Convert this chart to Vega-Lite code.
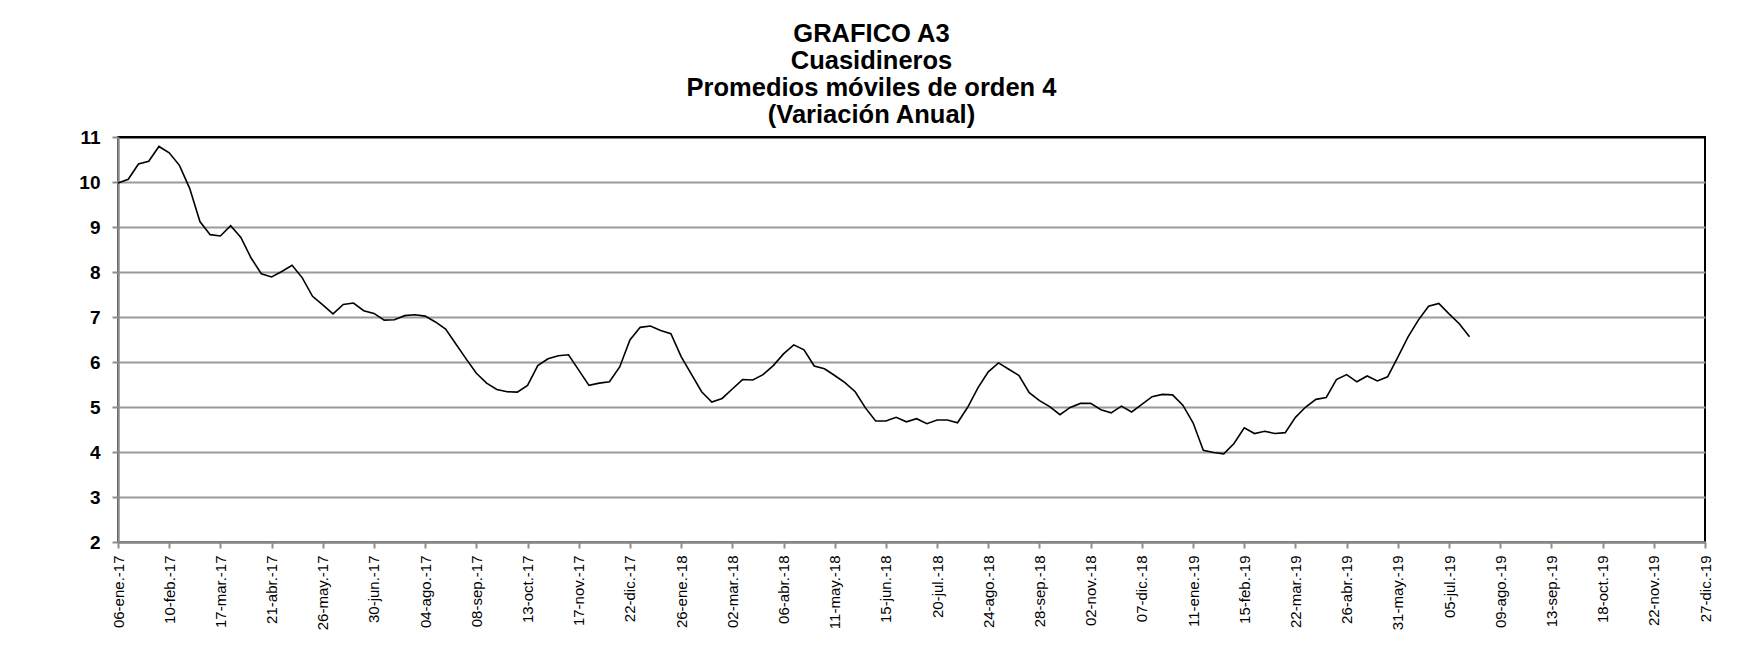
{
  "$schema": "https://vega.github.io/schema/vega-lite/v6.json",
  "autosize": {"type": "none"},
  "width": 1587,
  "height": 405,
  "padding": {"left": 118, "top": 137, "right": 37, "bottom": 119},
  "background": "white",
  "title": {
    "text": ["GRAFICO A3", "Cuasidineros", "Promedios móviles de orden 4", "(Variación Anual)"],
    "font": "Liberation Sans",
    "fontSize": 25.5,
    "fontWeight": "bold",
    "lineHeight": 27,
    "color": "black",
    "anchor": "middle",
    "dx": -40,
    "offset": 0
  },
  "config": {
    "view": {"stroke": "black", "strokeWidth": 2},
    "axis": {"labelFont": "Liberation Sans", "titleFont": "Liberation Sans"}
  },
  "data": {
    "values": [
      {"fecha": "2017/01/06", "valor": 9.98},
      {"fecha": "2017/01/13", "valor": 10.06},
      {"fecha": "2017/01/20", "valor": 10.40},
      {"fecha": "2017/01/27", "valor": 10.46},
      {"fecha": "2017/02/03", "valor": 10.79},
      {"fecha": "2017/02/10", "valor": 10.65},
      {"fecha": "2017/02/17", "valor": 10.37},
      {"fecha": "2017/02/24", "valor": 9.86},
      {"fecha": "2017/03/03", "valor": 9.12},
      {"fecha": "2017/03/10", "valor": 8.83},
      {"fecha": "2017/03/17", "valor": 8.80},
      {"fecha": "2017/03/24", "valor": 9.03},
      {"fecha": "2017/03/31", "valor": 8.77},
      {"fecha": "2017/04/07", "valor": 8.31},
      {"fecha": "2017/04/14", "valor": 7.96},
      {"fecha": "2017/04/21", "valor": 7.89},
      {"fecha": "2017/04/28", "valor": 8.01},
      {"fecha": "2017/05/05", "valor": 8.15},
      {"fecha": "2017/05/12", "valor": 7.87},
      {"fecha": "2017/05/19", "valor": 7.46},
      {"fecha": "2017/05/26", "valor": 7.27},
      {"fecha": "2017/06/02", "valor": 7.07},
      {"fecha": "2017/06/09", "valor": 7.28},
      {"fecha": "2017/06/16", "valor": 7.31},
      {"fecha": "2017/06/23", "valor": 7.14},
      {"fecha": "2017/06/30", "valor": 7.08},
      {"fecha": "2017/07/07", "valor": 6.93},
      {"fecha": "2017/07/14", "valor": 6.94},
      {"fecha": "2017/07/21", "valor": 7.03},
      {"fecha": "2017/07/28", "valor": 7.05},
      {"fecha": "2017/08/04", "valor": 7.02},
      {"fecha": "2017/08/11", "valor": 6.89},
      {"fecha": "2017/08/18", "valor": 6.73},
      {"fecha": "2017/08/25", "valor": 6.40},
      {"fecha": "2017/09/01", "valor": 6.07},
      {"fecha": "2017/09/08", "valor": 5.75},
      {"fecha": "2017/09/15", "valor": 5.53},
      {"fecha": "2017/09/22", "valor": 5.39},
      {"fecha": "2017/09/29", "valor": 5.34},
      {"fecha": "2017/10/06", "valor": 5.33},
      {"fecha": "2017/10/13", "valor": 5.48},
      {"fecha": "2017/10/20", "valor": 5.92},
      {"fecha": "2017/10/27", "valor": 6.07},
      {"fecha": "2017/11/03", "valor": 6.14},
      {"fecha": "2017/11/10", "valor": 6.16},
      {"fecha": "2017/11/17", "valor": 5.82},
      {"fecha": "2017/11/24", "valor": 5.48},
      {"fecha": "2017/12/01", "valor": 5.53},
      {"fecha": "2017/12/08", "valor": 5.56},
      {"fecha": "2017/12/15", "valor": 5.89},
      {"fecha": "2017/12/22", "valor": 6.49},
      {"fecha": "2017/12/29", "valor": 6.77},
      {"fecha": "2018/01/05", "valor": 6.80},
      {"fecha": "2018/01/12", "valor": 6.70},
      {"fecha": "2018/01/19", "valor": 6.63},
      {"fecha": "2018/01/26", "valor": 6.12},
      {"fecha": "2018/02/02", "valor": 5.73},
      {"fecha": "2018/02/09", "valor": 5.34},
      {"fecha": "2018/02/16", "valor": 5.11},
      {"fecha": "2018/02/23", "valor": 5.19},
      {"fecha": "2018/03/02", "valor": 5.40},
      {"fecha": "2018/03/09", "valor": 5.61},
      {"fecha": "2018/03/16", "valor": 5.60},
      {"fecha": "2018/03/23", "valor": 5.72},
      {"fecha": "2018/03/30", "valor": 5.92},
      {"fecha": "2018/04/06", "valor": 6.18},
      {"fecha": "2018/04/13", "valor": 6.38},
      {"fecha": "2018/04/20", "valor": 6.27},
      {"fecha": "2018/04/27", "valor": 5.91},
      {"fecha": "2018/05/04", "valor": 5.85},
      {"fecha": "2018/05/11", "valor": 5.70},
      {"fecha": "2018/05/18", "valor": 5.54},
      {"fecha": "2018/05/25", "valor": 5.34},
      {"fecha": "2018/06/01", "valor": 4.98},
      {"fecha": "2018/06/08", "valor": 4.69},
      {"fecha": "2018/06/15", "valor": 4.69},
      {"fecha": "2018/06/22", "valor": 4.77},
      {"fecha": "2018/06/29", "valor": 4.67},
      {"fecha": "2018/07/06", "valor": 4.74},
      {"fecha": "2018/07/13", "valor": 4.63},
      {"fecha": "2018/07/20", "valor": 4.71},
      {"fecha": "2018/07/27", "valor": 4.71},
      {"fecha": "2018/08/03", "valor": 4.65},
      {"fecha": "2018/08/10", "valor": 5.00},
      {"fecha": "2018/08/17", "valor": 5.43},
      {"fecha": "2018/08/24", "valor": 5.78},
      {"fecha": "2018/08/31", "valor": 5.98},
      {"fecha": "2018/09/07", "valor": 5.84},
      {"fecha": "2018/09/14", "valor": 5.70},
      {"fecha": "2018/09/21", "valor": 5.32},
      {"fecha": "2018/09/28", "valor": 5.14},
      {"fecha": "2018/10/05", "valor": 5.01},
      {"fecha": "2018/10/12", "valor": 4.83},
      {"fecha": "2018/10/19", "valor": 4.99},
      {"fecha": "2018/10/26", "valor": 5.08},
      {"fecha": "2018/11/02", "valor": 5.08},
      {"fecha": "2018/11/09", "valor": 4.94},
      {"fecha": "2018/11/16", "valor": 4.87},
      {"fecha": "2018/11/23", "valor": 5.02},
      {"fecha": "2018/11/30", "valor": 4.89},
      {"fecha": "2018/12/07", "valor": 5.06},
      {"fecha": "2018/12/14", "valor": 5.23},
      {"fecha": "2018/12/21", "valor": 5.28},
      {"fecha": "2018/12/28", "valor": 5.27},
      {"fecha": "2019/01/04", "valor": 5.04},
      {"fecha": "2019/01/11", "valor": 4.65},
      {"fecha": "2019/01/18", "valor": 4.04},
      {"fecha": "2019/01/25", "valor": 3.99},
      {"fecha": "2019/02/01", "valor": 3.96},
      {"fecha": "2019/02/08", "valor": 4.19},
      {"fecha": "2019/02/15", "valor": 4.54},
      {"fecha": "2019/02/22", "valor": 4.41},
      {"fecha": "2019/03/01", "valor": 4.46},
      {"fecha": "2019/03/08", "valor": 4.41},
      {"fecha": "2019/03/15", "valor": 4.43},
      {"fecha": "2019/03/22", "valor": 4.77},
      {"fecha": "2019/03/29", "valor": 5.00},
      {"fecha": "2019/04/05", "valor": 5.17},
      {"fecha": "2019/04/12", "valor": 5.21},
      {"fecha": "2019/04/19", "valor": 5.61},
      {"fecha": "2019/04/26", "valor": 5.72},
      {"fecha": "2019/05/03", "valor": 5.56},
      {"fecha": "2019/05/10", "valor": 5.69},
      {"fecha": "2019/05/17", "valor": 5.58},
      {"fecha": "2019/05/24", "valor": 5.67},
      {"fecha": "2019/05/31", "valor": 6.11},
      {"fecha": "2019/06/07", "valor": 6.56},
      {"fecha": "2019/06/14", "valor": 6.93},
      {"fecha": "2019/06/21", "valor": 7.24},
      {"fecha": "2019/06/28", "valor": 7.30},
      {"fecha": "2019/07/05", "valor": 7.07},
      {"fecha": "2019/07/12", "valor": 6.85},
      {"fecha": "2019/07/19", "valor": 6.56}
    ]
  },
  "mark": {"type": "line", "color": "black", "strokeWidth": 1.6, "interpolate": "linear"},
  "encoding": {
    "x": {
      "field": "fecha",
      "type": "temporal",
      "scale": {
        "domain": [{"year": 2017, "month": 1, "date": 6}, {"year": 2019, "month": 12, "date": 27}],
        "nice": false
      },
      "axis": {
        "title": null,
        "grid": false,
        "values": [
          {"year": 2017, "month": 1, "date": 6},
          {"year": 2017, "month": 2, "date": 10},
          {"year": 2017, "month": 3, "date": 17},
          {"year": 2017, "month": 4, "date": 21},
          {"year": 2017, "month": 5, "date": 26},
          {"year": 2017, "month": 6, "date": 30},
          {"year": 2017, "month": 8, "date": 4},
          {"year": 2017, "month": 9, "date": 8},
          {"year": 2017, "month": 10, "date": 13},
          {"year": 2017, "month": 11, "date": 17},
          {"year": 2017, "month": 12, "date": 22},
          {"year": 2018, "month": 1, "date": 26},
          {"year": 2018, "month": 3, "date": 2},
          {"year": 2018, "month": 4, "date": 6},
          {"year": 2018, "month": 5, "date": 11},
          {"year": 2018, "month": 6, "date": 15},
          {"year": 2018, "month": 7, "date": 20},
          {"year": 2018, "month": 8, "date": 24},
          {"year": 2018, "month": 9, "date": 28},
          {"year": 2018, "month": 11, "date": 2},
          {"year": 2018, "month": 12, "date": 7},
          {"year": 2019, "month": 1, "date": 11},
          {"year": 2019, "month": 2, "date": 15},
          {"year": 2019, "month": 3, "date": 22},
          {"year": 2019, "month": 4, "date": 26},
          {"year": 2019, "month": 5, "date": 31},
          {"year": 2019, "month": 7, "date": 5},
          {"year": 2019, "month": 8, "date": 9},
          {"year": 2019, "month": 9, "date": 13},
          {"year": 2019, "month": 10, "date": 18},
          {"year": 2019, "month": 11, "date": 22},
          {"year": 2019, "month": 12, "date": 27}
        ],
        "labelExpr": "timeFormat(datum.value, '%d') + '-' + ['ene.','feb.','mar.','abr.','may.','jun.','jul.','ago.','sep.','oct.','nov.','dic.'][month(datum.value)] + '-' + timeFormat(datum.value, '%y')",
        "labelAngle": -90,
        "labelAlign": "right",
        "labelBaseline": "middle",
        "labelFontSize": 15,
        "labelColor": "black",
        "labelPadding": 7,
        "labelOverlap": false,
        "labelBound": false,
        "labelFlush": false,
        "tickColor": "#8c8c8c",
        "tickSize": 6,
        "tickWidth": 2,
        "domainColor": "#8c8c8c",
        "domainWidth": 2.5
      }
    },
    "y": {
      "field": "valor",
      "type": "quantitative",
      "scale": {"domain": [2, 11], "nice": false, "zero": false},
      "axis": {
        "title": null,
        "values": [2, 3, 4, 5, 6, 7, 8, 9, 10, 11],
        "labelFontSize": 19,
        "labelFontWeight": "bold",
        "labelColor": "black",
        "labelPadding": 12,
        "tickColor": "#8c8c8c",
        "tickSize": 6,
        "tickWidth": 2,
        "domainColor": "#8c8c8c",
        "domainWidth": 2.5,
        "gridColor": {"condition": {"test": "datum.value == 11", "value": "black"}, "value": "#9a9a9a"},
        "gridWidth": 2,
        "gridOpacity": 1
      }
    }
  }
}
